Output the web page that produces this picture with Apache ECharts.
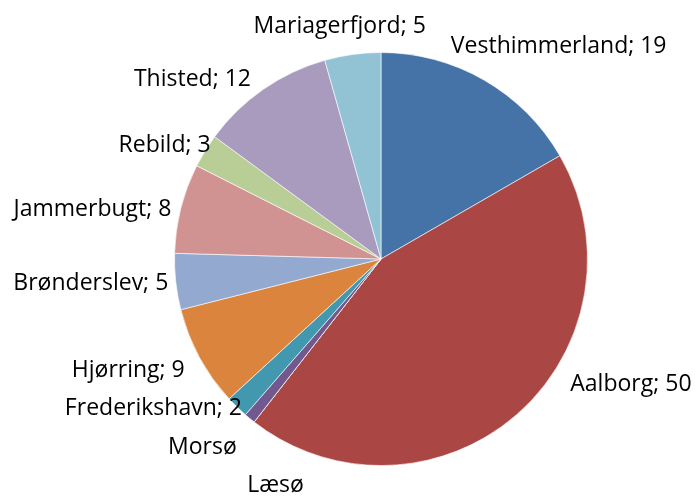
<!DOCTYPE html>
<html>
<head>
    <meta charset="UTF-8">
    <title>Kommuner</title>
    <script src="https://cdn.jsdelivr.net/npm/echarts@6/dist/echarts.min.js"></script>
    <style>
        html, body { margin: 0; padding: 0; background: #fff; }
        #main { width: 697px; height: 496px; }
    </style>
</head>
<body>
<div id="main"></div>
<script>
    // data, clockwise from 12 o'clock
    var categories = ['Vesthimmerland', 'Aalborg', 'Læsø', 'Morsø', 'Frederikshavn', 'Hjørring',
        'Brønderslev', 'Jammerbugt', 'Rebild', 'Thisted', 'Mariagerfjord'];
    var values = [19, 50, 0, 1, 2, 9, 5, 8, 3, 12, 5];
    // these two labels only show the name
    var nameOnly = ['Læsø', 'Morsø'];

    var colors = ['#4572A7', '#AA4643', '#89A54E', '#71588F', '#4198AF', '#DB843D',
        '#93A9CF', '#D19392', '#B9CD96', '#A99BBD', '#92C3D4'];

    // pie geometry and where each label sits (angle clockwise from top, distance from centre)
    var cx = 381, cy = 259, r = 206.5;
    var labelAngle = [39.9, 116.6, 205.0, 223.4, 236.7, 246.2, 265.2, 279.7, 297.7, 313.6, 349.9];
    var labelDist = [277, 279.5, 249.5, 260, 272.3, 276.2, 291.2, 292.7, 244.4, 260.4, 235.7];

    var myChart = echarts.init(document.getElementById('main'));

    var pieData = categories.map(function (name, i) {
        return { name: name, value: values[i], itemStyle: { color: colors[i] } };
    });

    var option = {
        animation: false,
        series: [
            {
                type: 'pie',
                center: [cx, cy],
                radius: r,
                startAngle: 90,
                clockwise: true,
                avoidLabelOverlap: false,
                itemStyle: { borderColor: '#ffffff', borderWidth: 0.6 },
                label: {
                    show: true,
                    position: 'outside',
                    fontFamily: 'Open Sans',
                    fontSize: 23,
                    color: '#000',
                    formatter: function (p) {
                        if (nameOnly.indexOf(p.name) >= 0) return p.name;
                        return p.name + '; ' + p.value;
                    }
                },
                labelLine: { show: false },
                labelLayout: function (p) {
                    var a = labelAngle[p.dataIndex] * Math.PI / 180;
                    var d = labelDist[p.dataIndex];
                    return {
                        x: cx + d * Math.sin(a),
                        y: cy - d * Math.cos(a),
                        align: 'center',
                        verticalAlign: 'middle'
                    };
                },
                data: pieData
            }
        ]
    };

    myChart.setOption(option);
</script>
</body>
</html>
